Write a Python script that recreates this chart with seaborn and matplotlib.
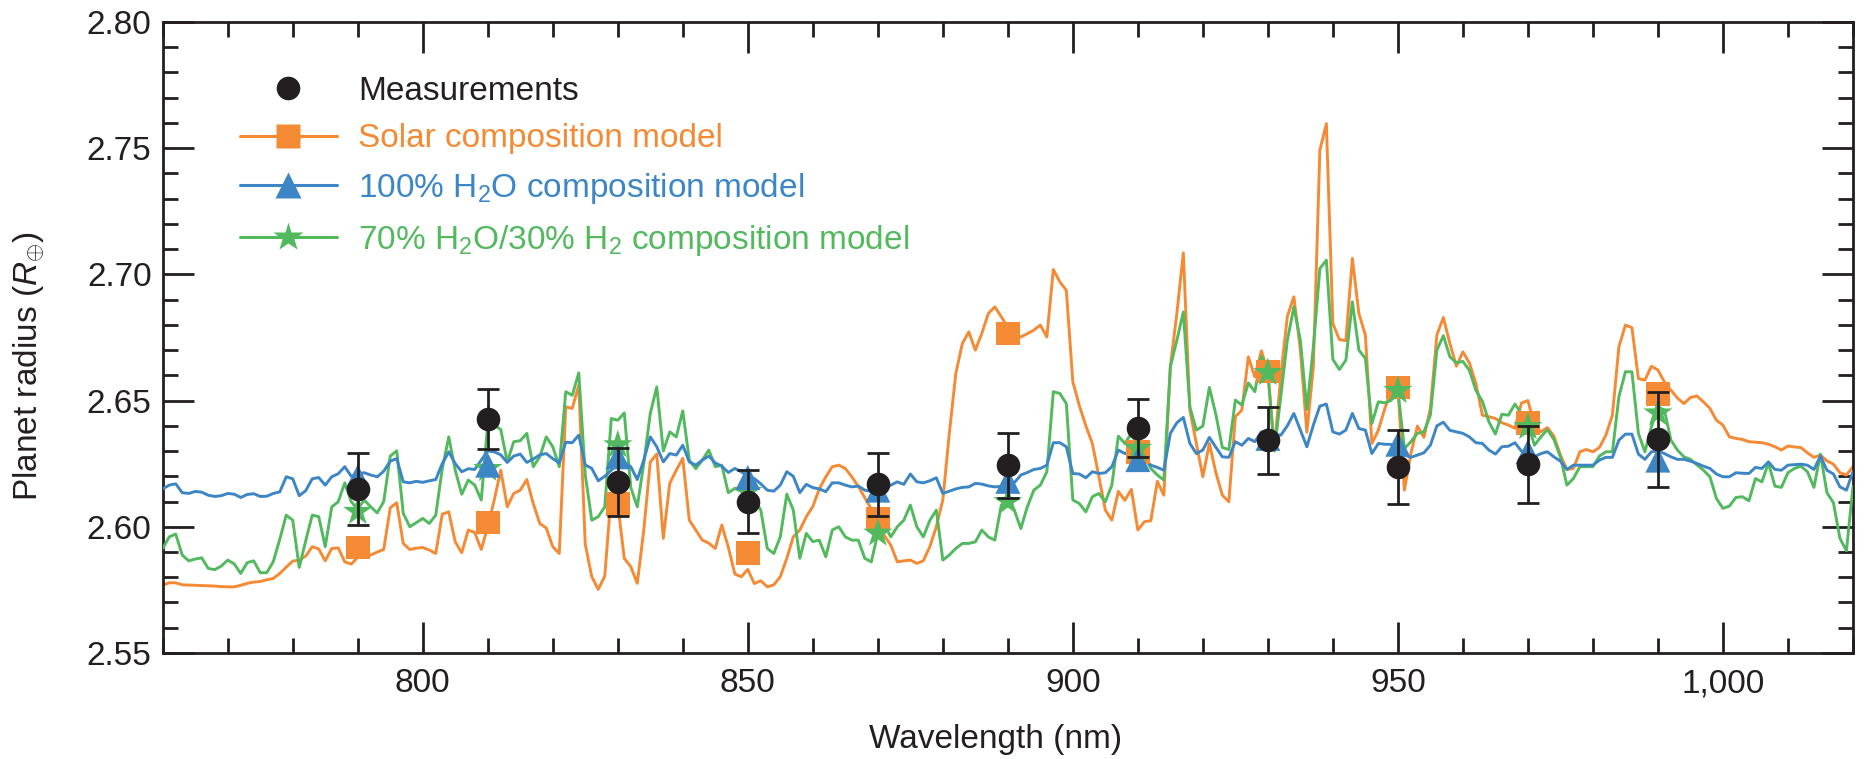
import numpy as np
import pandas as pd
import matplotlib.pyplot as plt
import seaborn as sns
from matplotlib.ticker import MultipleLocator, FuncFormatter
from matplotlib.lines import Line2D

# model spectra, 1 nm grid from 760 to 1020 nm
wavelength = np.arange(760, 1021)

solar = [
    2.5769, 2.5778, 2.5778, 2.5770, 2.5769, 2.5768, 2.5767, 2.5766, 2.5765, 2.5763,  # 760
    2.5762, 2.5762, 2.5768, 2.5776, 2.5781, 2.5783, 2.5790, 2.5795, 2.5815, 2.5840,  # 770
    2.5864, 2.5868, 2.5884, 2.5921, 2.5912, 2.5865, 2.5914, 2.5916, 2.5861, 2.5852,  # 780
    2.5879, 2.5884, 2.5888, 2.5900, 2.5910, 2.6075, 2.6095, 2.5934, 2.5910, 2.5915,  # 790
    2.5918, 2.5908, 2.5894, 2.6050, 2.6059, 2.5940, 2.5897, 2.5987, 2.5977, 2.5910,  # 800
    2.6000, 2.6106, 2.6224, 2.6079, 2.6132, 2.6145, 2.6187, 2.6092, 2.6013, 2.5995,  # 810
    2.5921, 2.5894, 2.6475, 2.6469, 2.6561, 2.5930, 2.5802, 2.5752, 2.5805, 2.6132,  # 820
    2.6090, 2.5875, 2.5842, 2.5776, 2.5987, 2.6257, 2.6288, 2.5954, 2.6172, 2.6224,  # 830
    2.6271, 2.6026, 2.5987, 2.5947, 2.5935, 2.5914, 2.6007, 2.5920, 2.5813, 2.5802,  # 840
    2.5831, 2.5775, 2.5786, 2.5762, 2.5770, 2.5802, 2.5875, 2.5960, 2.5987, 2.6040,  # 850
    2.6080, 2.6150, 2.6198, 2.6238, 2.6244, 2.6231, 2.6198, 2.6160, 2.6115, 2.6070,  # 860
    2.6033, 2.5965, 2.5927, 2.5861, 2.5865, 2.5868, 2.5855, 2.5865, 2.5921, 2.6000,  # 870
    2.6106, 2.6370, 2.6607, 2.6726, 2.6772, 2.6700, 2.6766, 2.6845, 2.6871, 2.6832,  # 880
    2.6790, 2.6760, 2.6752, 2.6765, 2.6779, 2.6799, 2.6752, 2.7019, 2.6970, 2.6937,  # 890
    2.6574, 2.6480, 2.6400, 2.6330, 2.6200, 2.6066, 2.6026, 2.6140, 2.6105, 2.6148,  # 900
    2.5987, 2.6020, 2.6024, 2.6180, 2.6125, 2.6634, 2.6845, 2.7085, 2.6462, 2.6330,  # 910
    2.6198, 2.6330, 2.6215, 2.6125, 2.6099, 2.6436, 2.6462, 2.6673, 2.6594, 2.6697,  # 920
    2.6615, 2.6310, 2.6600, 2.6834, 2.6911, 2.6700, 2.6375, 2.6634, 2.7492, 2.7597,  # 930
    2.6805, 2.6742, 2.6737, 2.7063, 2.6845, 2.6759, 2.6330, 2.6383, 2.6469, 2.6541,  # 940
    2.6550, 2.6145, 2.6290, 2.6399, 2.6354, 2.6469, 2.6760, 2.6829, 2.6726, 2.6636,  # 950
    2.6693, 2.6649, 2.6568, 2.6442, 2.6436, 2.6429, 2.6412, 2.6403, 2.6390, 2.6490,  # 960
    2.6500, 2.6403, 2.6376, 2.6393, 2.6359, 2.6284, 2.6227, 2.6231, 2.6297, 2.6306,  # 970
    2.6297, 2.6314, 2.6363, 2.6442, 2.6713, 2.6799, 2.6789, 2.6587, 2.6581, 2.6636,  # 980
    2.6621, 2.6574, 2.6541, 2.6510, 2.6488, 2.6512, 2.6518, 2.6495, 2.6469, 2.6422,  # 990
    2.6403, 2.6356, 2.6350, 2.6346, 2.6337, 2.6335, 2.6333, 2.6327, 2.6317, 2.6304,  # 1000
    2.6320, 2.6316, 2.6314, 2.6293, 2.6275, 2.6284, 2.6261, 2.6248, 2.6214, 2.6205,  # 1010
    2.6238,
]

water = [
    2.6150, 2.6165, 2.6170, 2.6135, 2.6132, 2.6140, 2.6137, 2.6125, 2.6120, 2.6123,  # 760
    2.6132, 2.6129, 2.6116, 2.6128, 2.6131, 2.6120, 2.6121, 2.6132, 2.6138, 2.6198,  # 770
    2.6190, 2.6123, 2.6143, 2.6190, 2.6195, 2.6165, 2.6198, 2.6210, 2.6238, 2.6200,  # 780
    2.6210, 2.6214, 2.6205, 2.6198, 2.6220, 2.6260, 2.6270, 2.6178, 2.6174, 2.6180,  # 790
    2.6176, 2.6182, 2.6187, 2.6250, 2.6297, 2.6250, 2.6218, 2.6230, 2.6227, 2.6264,  # 800
    2.6300, 2.6297, 2.6285, 2.6255, 2.6280, 2.6288, 2.6255, 2.6268, 2.6285, 2.6290,  # 810
    2.6270, 2.6253, 2.6335, 2.6333, 2.6363, 2.6245, 2.6231, 2.6182, 2.6200, 2.6224,  # 820
    2.6250, 2.6255, 2.6238, 2.6187, 2.6264, 2.6356, 2.6317, 2.6257, 2.6290, 2.6284,  # 830
    2.6323, 2.6257, 2.6244, 2.6264, 2.6280, 2.6253, 2.6240, 2.6215, 2.6231, 2.6218,  # 840
    2.6200, 2.6191, 2.6170, 2.6145, 2.6141, 2.6165, 2.6218, 2.6200, 2.6135, 2.6168,  # 850
    2.6155, 2.6150, 2.6139, 2.6174, 2.6174, 2.6165, 2.6158, 2.6161, 2.6145, 2.6140,  # 860
    2.6140, 2.6150, 2.6165, 2.6178, 2.6168, 2.6209, 2.6178, 2.6174, 2.6182, 2.6194,  # 870
    2.6132, 2.6141, 2.6150, 2.6156, 2.6158, 2.6172, 2.6169, 2.6162, 2.6158, 2.6160,  # 880
    2.6165, 2.6175, 2.6205, 2.6215, 2.6227, 2.6231, 2.6244, 2.6333, 2.6333, 2.6317,  # 890
    2.6211, 2.6209, 2.6194, 2.6218, 2.6211, 2.6214, 2.6238, 2.6304, 2.6290, 2.6301,  # 900
    2.6290, 2.6270, 2.6244, 2.6235, 2.6224, 2.6370, 2.6412, 2.6433, 2.6330, 2.6290,  # 910
    2.6304, 2.6354, 2.6315, 2.6277, 2.6275, 2.6337, 2.6323, 2.6350, 2.6337, 2.6376,  # 920
    2.6370, 2.6365, 2.6363, 2.6400, 2.6449, 2.6383, 2.6317, 2.6403, 2.6478, 2.6486,  # 930
    2.6376, 2.6367, 2.6383, 2.6449, 2.6389, 2.6383, 2.6290, 2.6330, 2.6327, 2.6326,  # 940
    2.6300, 2.6285, 2.6275, 2.6284, 2.6293, 2.6323, 2.6400, 2.6414, 2.6382, 2.6376,  # 950
    2.6370, 2.6356, 2.6333, 2.6330, 2.6304, 2.6288, 2.6317, 2.6319, 2.6333, 2.6300,  # 960
    2.6280, 2.6277, 2.6290, 2.6297, 2.6277, 2.6260, 2.6227, 2.6244, 2.6244, 2.6244,  # 970
    2.6244, 2.6264, 2.6275, 2.6275, 2.6343, 2.6367, 2.6367, 2.6288, 2.6267, 2.6297,  # 980
    2.6300, 2.6290, 2.6277, 2.6267, 2.6267, 2.6260, 2.6251, 2.6240, 2.6231, 2.6209,  # 990
    2.6198, 2.6198, 2.6214, 2.6212, 2.6211, 2.6235, 2.6231, 2.6257, 2.6227, 2.6224,  # 1000
    2.6244, 2.6246, 2.6248, 2.6244, 2.6227, 2.6280, 2.6224, 2.6209, 2.6158, 2.6145,  # 1010
    2.6218,
]

mixed = [
    2.5914, 2.5960, 2.5971, 2.5888, 2.5865, 2.5872, 2.5877, 2.5835, 2.5830, 2.5844,  # 760
    2.5868, 2.5853, 2.5815, 2.5858, 2.5865, 2.5818, 2.5818, 2.5861, 2.5950, 2.6046,  # 770
    2.6026, 2.5839, 2.5945, 2.6046, 2.6040, 2.5921, 2.6079, 2.6099, 2.6174, 2.6099,  # 780
    2.6070, 2.6106, 2.6079, 2.6055, 2.6100, 2.6280, 2.6301, 2.6053, 2.6000, 2.6016,  # 790
    2.6033, 2.6013, 2.6046, 2.6230, 2.6356, 2.6224, 2.6129, 2.6185, 2.6165, 2.6106,  # 800
    2.6409, 2.6403, 2.6385, 2.6257, 2.6337, 2.6341, 2.6370, 2.6238, 2.6277, 2.6356,  # 810
    2.6317, 2.6238, 2.6535, 2.6521, 2.6610, 2.6205, 2.6026, 2.6040, 2.6079, 2.6429,  # 820
    2.6422, 2.6451, 2.6155, 2.6079, 2.6251, 2.6449, 2.6554, 2.6300, 2.6376, 2.6356,  # 830
    2.6459, 2.6264, 2.6230, 2.6264, 2.6304, 2.6238, 2.6244, 2.6135, 2.6152, 2.6140,  # 840
    2.6139, 2.6110, 2.6066, 2.5914, 2.5894, 2.5960, 2.6129, 2.6066, 2.5875, 2.5974,  # 850
    2.5941, 2.5947, 2.5881, 2.5987, 2.6000, 2.5960, 2.5947, 2.5947, 2.5875, 2.5861,  # 860
    2.5974, 2.6007, 2.5960, 2.6000, 2.6026, 2.6086, 2.6000, 2.5960, 2.6025, 2.6066,  # 870
    2.5868, 2.5888, 2.5914, 2.5934, 2.5934, 2.5940, 2.5987, 2.5960, 2.5947, 2.6086,  # 880
    2.6100, 2.6066, 2.5993, 2.6079, 2.6145, 2.6165, 2.6218, 2.6535, 2.6528, 2.6488,  # 890
    2.6106, 2.6092, 2.6059, 2.6119, 2.6132, 2.6099, 2.6165, 2.6359, 2.6330, 2.6370,  # 900
    2.6317, 2.6280, 2.6231, 2.6205, 2.6185, 2.6634, 2.6739, 2.6851, 2.6475, 2.6383,  # 910
    2.6399, 2.6552, 2.6445, 2.6314, 2.6306, 2.6502, 2.6482, 2.6570, 2.6535, 2.6676,  # 920
    2.6610, 2.6300, 2.6520, 2.6739, 2.6871, 2.6739, 2.6465, 2.6713, 2.7023, 2.7056,  # 930
    2.6663, 2.6623, 2.6660, 2.6891, 2.6700, 2.6667, 2.6409, 2.6495, 2.6491, 2.6502,  # 940
    2.6540, 2.6310, 2.6337, 2.6370, 2.6376, 2.6442, 2.6700, 2.6757, 2.6673, 2.6650,  # 950
    2.6655, 2.6620, 2.6540, 2.6497, 2.6416, 2.6367, 2.6446, 2.6442, 2.6486, 2.6449,  # 960
    2.6410, 2.6323, 2.6356, 2.6385, 2.6346, 2.6277, 2.6165, 2.6191, 2.6238, 2.6238,  # 970
    2.6238, 2.6280, 2.6297, 2.6297, 2.6515, 2.6614, 2.6614, 2.6370, 2.6297, 2.6396,  # 980
    2.6475, 2.6462, 2.6343, 2.6304, 2.6277, 2.6267, 2.6245, 2.6224, 2.6198, 2.6112,  # 990
    2.6073, 2.6082, 2.6116, 2.6119, 2.6103, 2.6191, 2.6178, 2.6253, 2.6161, 2.6156,  # 1000
    2.6214, 2.6231, 2.6240, 2.6218, 2.6156, 2.6288, 2.6135, 2.6095, 2.5954, 2.5905,  # 1010
    2.6158,
]

# band-averaged points
band_nm = [790, 810, 830, 850, 870, 890, 910, 930, 950, 970, 990]
meas = [2.6150, 2.6427, 2.6176, 2.6099, 2.6168, 2.6243, 2.6392, 2.6342, 2.6237, 2.6247, 2.6346]
meas_err = [0.0144, 0.0118, 0.0135, 0.0125, 0.0125, 0.0130, 0.0114, 0.0133, 0.0145, 0.0153, 0.0188]
solar_band = [2.5918, 2.6017, 2.6090, 2.5895, 2.6033, 2.6766, 2.6297, 2.6615, 2.6551, 2.6410, 2.6525]
water_band = [2.6198, 2.6244, 2.6277, 2.6195, 2.6145, 2.6180, 2.6266, 2.6350, 2.6327, 2.6297, 2.6264]
mixed_band = [2.6060, 2.6230, 2.6324, 2.6139, 2.5974, 2.6099, 2.6310, 2.6610, 2.6539, 2.6396, 2.6450]

labels = ['Measurements',
          'Solar composition model',
          r'100% H$_\mathrm{2}$O composition model',
          r'70% H$_\mathrm{2}$O/30% H$_\mathrm{2}$ composition model']

BLACK = '#231f20'
ORANGE = '#f58a34'
BLUE = '#3c86c6'
GREEN = '#52b95e'

sns.set_style('ticks')
plt.rcParams['font.family'] = ['Liberation Sans', 'DejaVu Sans']
plt.rcParams['mathtext.fontset'] = 'custom'
plt.rcParams['mathtext.rm'] = 'Liberation Sans'
plt.rcParams['mathtext.it'] = 'Liberation Sans:italic'
plt.rcParams['mathtext.bf'] = 'Liberation Sans:bold'
FS = 24

spectra = pd.DataFrame({'wavelength': wavelength, 'solar': solar,
                        'water': water, 'mixed': mixed})
bands = pd.DataFrame({'nm': band_nm, 'meas': meas, 'err': meas_err,
                      'solar': solar_band, 'water': water_band, 'mixed': mixed_band})

fig = plt.figure(figsize=(18.66, 7.59), dpi=100)
ax = fig.add_axes([0.0872, 0.1397, 0.9058, 0.8314])

lw = 2.1
sns.lineplot(data=spectra, x='wavelength', y='solar', color=ORANGE, lw=lw, ax=ax, zorder=2, estimator=None)
sns.lineplot(data=spectra, x='wavelength', y='mixed', color=GREEN, lw=lw, ax=ax, zorder=3, estimator=None)
sns.lineplot(data=spectra, x='wavelength', y='water', color=BLUE, lw=lw, ax=ax, zorder=4, estimator=None)

sns.scatterplot(data=bands, x='nm', y='solar', marker='s', s=17 ** 2, color=ORANGE,
                edgecolor='none', ax=ax, zorder=5)
sns.scatterplot(data=bands, x='nm', y='mixed', marker='*', s=22 ** 2, color=GREEN,
                edgecolor='none', ax=ax, zorder=6)
sns.scatterplot(data=bands, x='nm', y='water', marker='^', s=18 ** 2, color=BLUE,
                edgecolor='none', ax=ax, zorder=7)
ax.errorbar(bands['nm'], bands['meas'], yerr=bands['err'], fmt='o', color=BLACK,
            ms=17, mec='none', capsize=8, elinewidth=2, capthick=2, zorder=10)

ax.set_xlim(760, 1020)
ax.set_ylim(2.55, 2.80)
ax.xaxis.set_major_locator(MultipleLocator(50))
ax.xaxis.set_minor_locator(MultipleLocator(10))
ax.yaxis.set_major_locator(MultipleLocator(0.05))
ax.yaxis.set_minor_locator(MultipleLocator(0.01))
ax.xaxis.set_major_formatter(FuncFormatter(lambda v, p: f'{v:,.0f}'))
ax.yaxis.set_major_formatter(FuncFormatter(lambda v, p: f'{v:.2f}'))

for side in ax.spines.values():
    side.set_linewidth(2)
    side.set_color(BLACK)
ax.tick_params(which='both', direction='in', top=True, right=True, width=2, color=BLACK,
               labelsize=FS, labelcolor=BLACK)
ax.tick_params(which='major', length=22)
ax.tick_params(which='minor', length=11)
ax.tick_params(axis='x', which='major', pad=11)
ax.tick_params(axis='y', which='major', pad=8)

ax.set_xlabel('Wavelength (nm)', fontsize=FS, color=BLACK)
ax.set_ylabel(r'Planet radius ($R_{\oplus}$)', fontsize=FS, color=BLACK)
ax.xaxis.set_label_coords(0.493, -0.112)
ax.yaxis.set_label_coords(-0.0685, 0.455)

handles = [
    Line2D([], [], ls='none', marker='o', color=BLACK, ms=17, mec='none'),
    Line2D([], [], color=ORANGE, lw=2.2, marker='s', ms=17, mec='none'),
    Line2D([], [], color=BLUE, lw=2.2, marker='^', ms=19, mec='none'),
    Line2D([], [], color=GREEN, lw=2.2, marker='*', ms=22, mec='none'),
]
leg = ax.legend(handles, labels, loc='upper left', bbox_to_anchor=(0.0457, 0.915),
                frameon=False, fontsize=FS, handlelength=2.9, handletextpad=0.65,
                labelspacing=0.5, borderaxespad=0, borderpad=0)
for txt, col in zip(leg.get_texts(), [BLACK, ORANGE, BLUE, GREEN]):
    txt.set_color(col)

fig.savefig('out.png', dpi=100)
